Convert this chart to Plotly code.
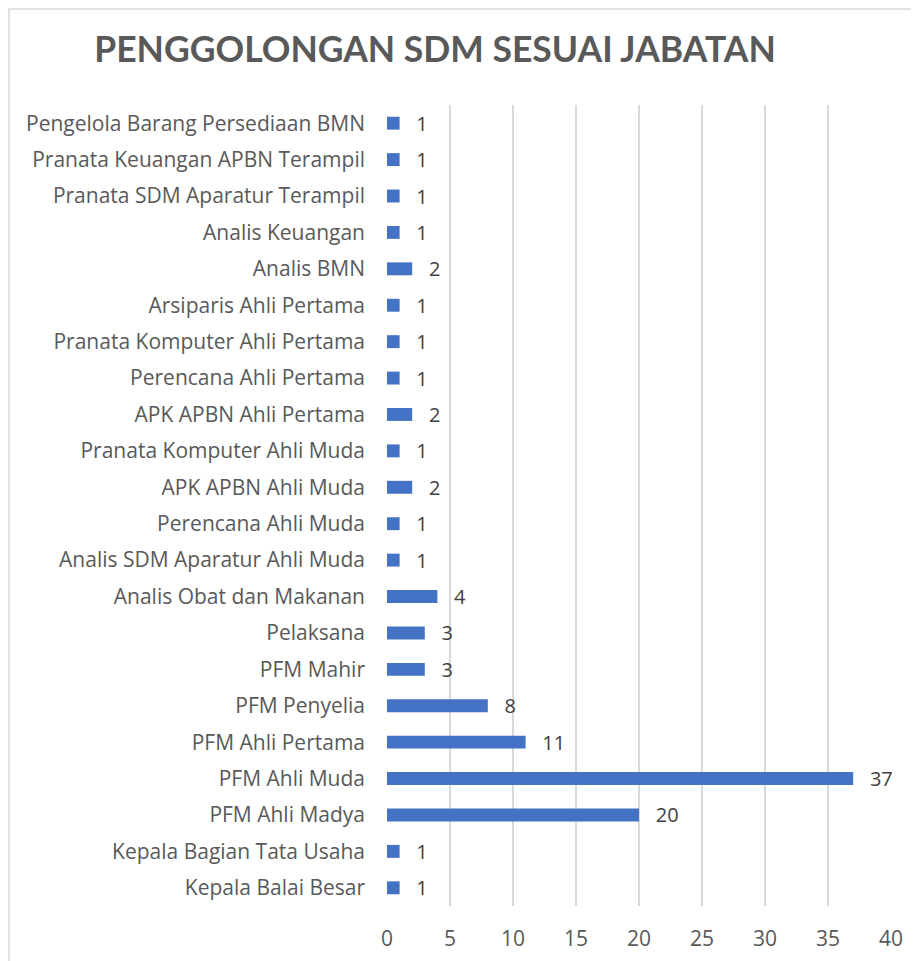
import plotly.graph_objects as go

categories = [
    "Kepala Balai Besar", "Kepala Bagian Tata Usaha", "PFM Ahli Madya", "PFM Ahli Muda",
    "PFM Ahli Pertama", "PFM Penyelia", "PFM Mahir", "Pelaksana", "Analis Obat dan Makanan",
    "Analis SDM Aparatur Ahli Muda", "Perencana Ahli Muda", "APK APBN Ahli Muda",
    "Pranata Komputer Ahli Muda", "APK APBN Ahli Pertama", "Perencana Ahli Pertama",
    "Pranata Komputer Ahli Pertama", "Arsiparis Ahli Pertama", "Analis BMN", "Analis Keuangan",
    "Pranata SDM Aparatur Terampil", "Pranata Keuangan APBN Terampil", "Pengelola Barang Persediaan BMN",
]
values = [1, 1, 20, 37, 11, 8, 3, 3, 4, 1, 1, 2, 1, 2, 1, 1, 1, 2, 1, 1, 1, 1]
x_ticks = [0, 5, 10, 15, 20, 25, 30, 35, 40]
title = "PENGGOLONGAN SDM SESUAI JABATAN"

FONT = "'Open Sans', 'Noto Sans', sans-serif"
TFONT = "Lato, sans-serif"
OFF = 8  # page body margin
W, H = 919 - OFF, 961 - OFF
L, R, T, B = 387 - OFF, 891 - OFF, 105 - OFF, 906 - OFF

fig = go.Figure(go.Bar(
    y=categories, x=values, orientation="h",
    marker=dict(color="#4472C4", line=dict(width=0)),
    text=[f"  \u2009{v}" for v in values], textposition="outside", cliponaxis=False,
    constraintext="none",
    textfont=dict(family=FONT, size=20, color="#404040"),
))

pw, ph = R - L, B - T
fig.add_shape(type="rect", xref="paper", yref="paper",
              x0=(1 - L) / pw, x1=(960 - L) / pw,
              y0=(B - 1000) / ph, y1=(B - 1) / ph,
              line=dict(color="#D9D9D9", width=1.5), fillcolor="rgba(0,0,0,0)", layer="below")

fig.update_layout(
    width=W, height=H,
    margin=dict(l=L, r=W - R, t=T, b=H - B, pad=0, autoexpand=False),
    paper_bgcolor="white", plot_bgcolor="white",
    bargap=0.645, showlegend=False,
    title=dict(text=f"<b>{title}</b>", x=(435 - OFF) / W, xanchor="center",
               y=1 - (50 - OFF) / H, yanchor="middle",
               font=dict(family=TFONT, size=35.5, color="#595959")),
    xaxis=dict(range=[0, 40], tickvals=x_ticks, showgrid=True, gridcolor="#D9D9D9", gridwidth=1.5,
               zeroline=False, showline=False, ticks="", ticklabelstandoff=18, automargin=False,
               tickfont=dict(family=FONT, size=21, color="#595959")),
    yaxis=dict(showgrid=False, zeroline=False, showline=False, ticks="", automargin=False,
               ticklabelstandoff=21, categoryorder="array", categoryarray=categories,
               tickfont=dict(family=FONT, size=21, color="#595959")),
    font=dict(family=FONT),
)

fig.write_html("out.html")
